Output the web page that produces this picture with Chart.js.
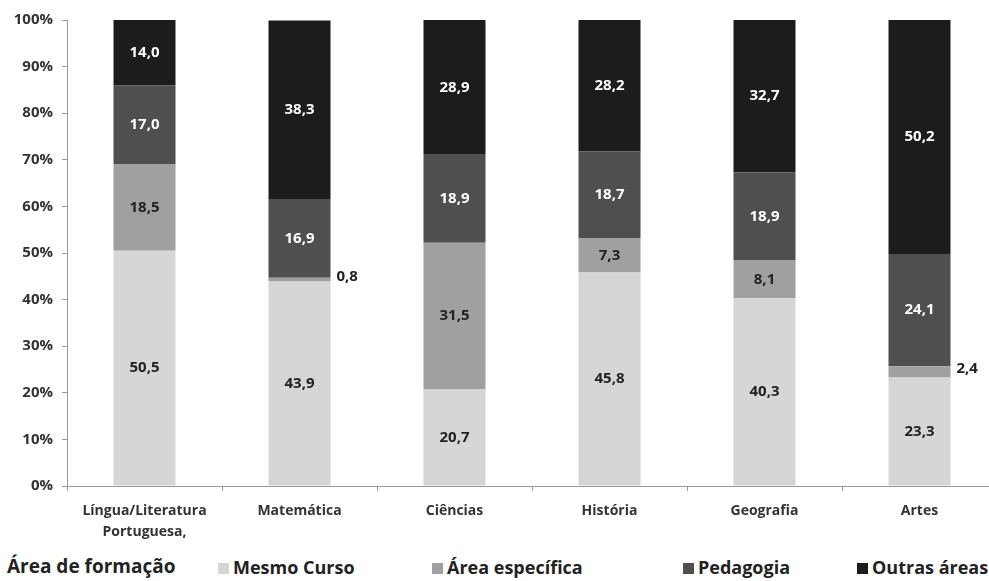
<!DOCTYPE html>
<html>
<head>
<meta charset="utf-8">
<script src="https://cdn.jsdelivr.net/npm/chart.js@4"></script>
<style>
  html, body { margin: 0; padding: 0; background: #fff; overflow: hidden; }
  #wrap { position: relative; width: 1000px; height: 548px; }
  #legend { position: relative; width: 989px; height: 33px; font-family: "Open Sans", sans-serif; font-weight: bold; color: #222; }
  #legend .title { position: absolute; left: 7px; top: 5px; font-size: 19px; }
  #legend .item { position: absolute; top: 7px; font-size: 18px; display: flex; align-items: center; }
  #legend .box { width: 11px; height: 11px; margin-right: 4px; margin-top: 2px; }
</style>
</head>
<body>
<div id="wrap"><canvas id="barChart"></canvas></div>
<div id="legend"><span class="title">Área de formação</span></div>
<script>
// categories and series (percent)
var categories = [["Língua/Literatura", "Portuguesa,"], "Matemática", "Ciências", "História", "Geografia", "Artes"];
var seriesNames = ["Mesmo Curso", "Área específica", "Pedagogia", "Outras áreas"];
var mesmoCurso = [50.5, 43.9, 20.7, 45.8, 40.3, 23.3];
var areaEspecifica = [18.5, 0.8, 31.5, 7.3, 8.1, 2.4];
var pedagogia = [17.0, 16.9, 18.9, 18.7, 18.9, 24.1];
var outrasAreas = [14.0, 38.3, 28.9, 28.2, 32.7, 50.2];
var yTicks = [0, 10, 20, 30, 40, 50, 60, 70, 80, 90, 100];

var colors = ['#d6d6d6', '#a0a0a0', '#4f4f4f', '#1c1c1c'];
var labelColors = ['#222', '#222', '#fff', '#fff'];
var allSeries = [mesmoCurso, areaEspecifica, pedagogia, outrasAreas];

// draws the value labels (comma decimal); small ones go right of the bar
var valueLabels = {
    id: 'valueLabels',
    afterDatasetsDraw: function(chart) {
        var ctx = chart.ctx;
        ctx.save();
        ctx.font = 'bold 15px "Open Sans", sans-serif';
        ctx.textBaseline = 'middle';
        chart.data.datasets.forEach(function(ds, i) {
            var meta = chart.getDatasetMeta(i);
            meta.data.forEach(function(bar, j) {
                var v = ds.data[j];
                var txt = v.toFixed(1).replace('.', ',');
                var cy = (bar.y + bar.base) / 2;
                if (v < 3) {
                    ctx.fillStyle = '#222';
                    ctx.textAlign = 'left';
                    ctx.fillText(txt, bar.x + bar.width / 2 + 6, cy - 3);
                } else {
                    ctx.fillStyle = labelColors[i];
                    ctx.textAlign = 'center';
                    ctx.fillText(txt, bar.x, cy);
                }
            });
        });
        ctx.restore();
    }
};

var ctx = document.getElementById('barChart').getContext('2d');
var myBarChart = new Chart(ctx, {
    type: 'bar',
    data: {
        labels: categories,
        datasets: allSeries.map(function(d, i) {
            return {
                label: seriesNames[i],
                data: d,
                backgroundColor: colors[i],
                borderWidth: 0,
                barPercentage: 0.4,
                categoryPercentage: 1
            };
        })
    },
    options: {
        responsive: true,
        maintainAspectRatio: false,
        animation: false,
        layout: { padding: { top: 20, right: 3, left: 0, bottom: 0 } },
        plugins: { legend: { display: false }, tooltip: { enabled: false } },
        scales: {
            x: {
                stacked: true,
                afterFit: function(s) { s.height = 62; },
                border: { color: '#999' },
                grid: { drawOnChartArea: false, tickLength: 5, color: '#999' },
                ticks: { color: '#333', font: { family: '"Open Sans", sans-serif', weight: 'bold', size: 14, lineHeight: 1.5 }, padding: 10, maxRotation: 0 }
            },
            y: {
                stacked: true,
                min: 0,
                max: 100,
                afterFit: function(s) { s.width = 67; },
                afterBuildTicks: function(s) { s.ticks = yTicks.map(function(v) { return { value: v }; }); },
                border: { color: '#999' },
                grid: { drawOnChartArea: false, tickLength: 5, color: '#999' },
                ticks: { color: '#333', font: { family: '"Open Sans", sans-serif', weight: 'bold', size: 15 }, padding: 9,
                    callback: function(v) { return v + '%'; } }
            }
        }
    },
    plugins: [valueLabels]
});

// html legend below the chart
var legendLeft = [218, 432, 683, 857];
var legend = document.getElementById('legend');
seriesNames.forEach(function(name, i) {
    var item = document.createElement('span');
    item.className = 'item';
    item.style.left = legendLeft[i] + 'px';
    item.innerHTML = '<span class="box" style="background:' + colors[i] + '"></span>' + name;
    legend.appendChild(item);
});
</script>
</body>
</html>
